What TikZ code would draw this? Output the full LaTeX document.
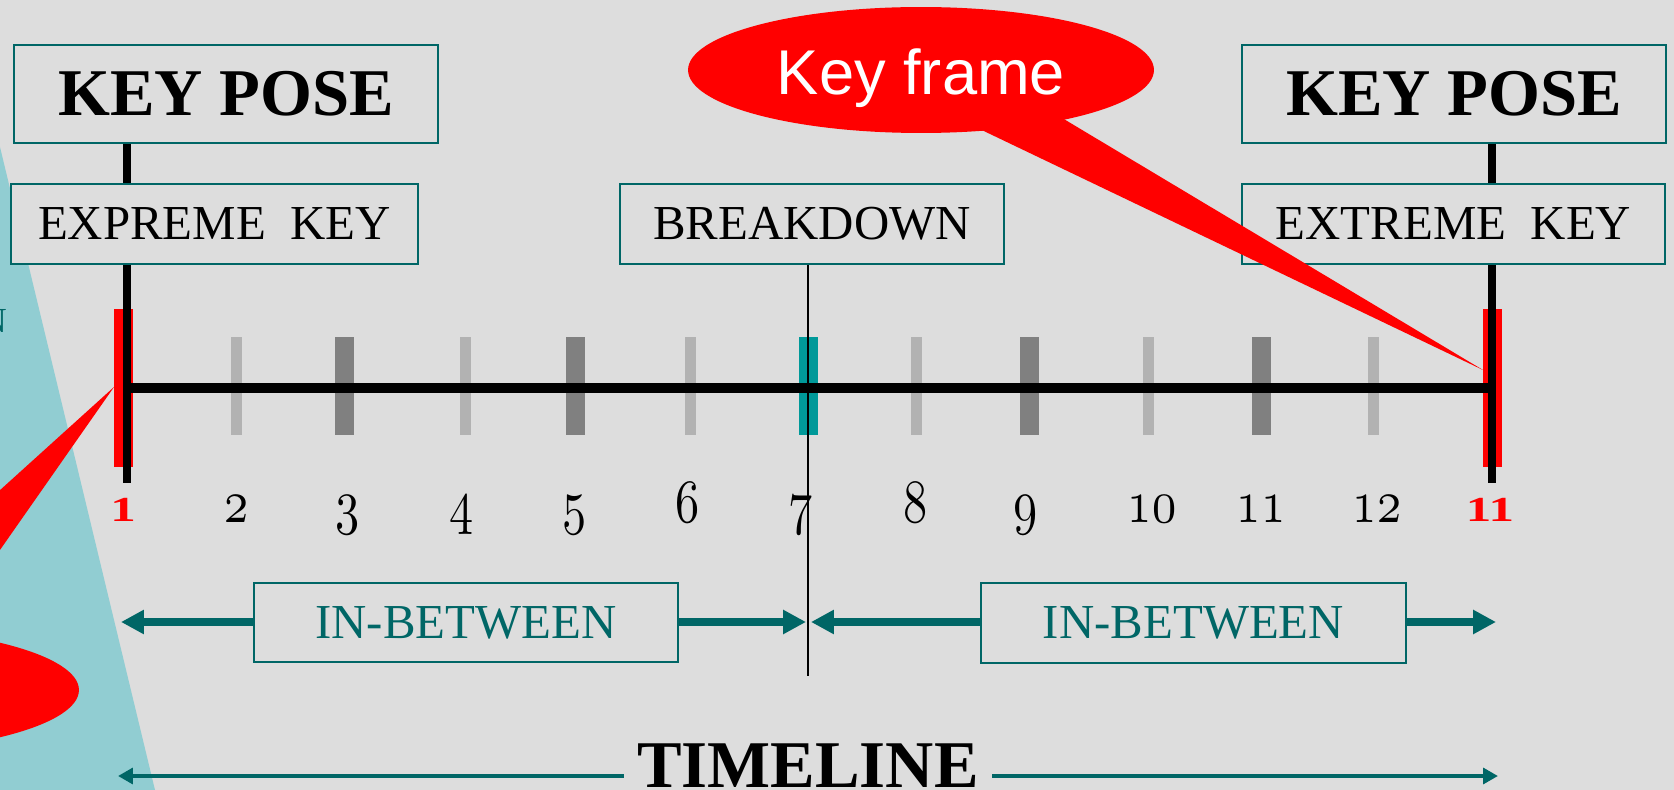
\documentclass[tikz,border=0pt]{standalone}
\usepackage{fontspec}
\usepackage{graphicx}
\setmainfont{Liberation Serif}
\newfontfamily\arialf{Liberation Sans}
\usetikzlibrary{arrows.meta,shapes.geometric}
\definecolor{bg}{RGB}{221,221,221}
\definecolor{lteal}{RGB}{145,205,210}
\definecolor{dteal}{RGB}{0,102,102}
\definecolor{mteal}{RGB}{0,153,153}
\definecolor{lgrey}{RGB}{178,178,178}
\definecolor{dgrey}{RGB}{128,128,128}
\newcommand\osn[1]{{\fontsize{10}{10}\usefont{OML}{cmm}{m}{it}\scalebox{2.75}[3.5]{#1}}}
\newcommand\osb[1]{{\fontsize{20}{20}\bfseries\scalebox{1.45}[1]{#1}}}
\begin{document}
\begin{tikzpicture}[x=0.02cm,y=-0.02cm,
  box/.style={draw=dteal, line width=1.1pt, fill=bg, inner sep=0pt, align=center},
  boxtxt/.style={font=\fontsize{27.8}{30}\selectfont},
  bigtxt/.style={font=\fontsize{38}{40}\selectfont\bfseries},
  keyline/.style={line width=4.5pt, black},
  ibarrow/.style={draw=dteal, line width=4.5pt, -{Triangle[length=13pt,width=13pt]}},
  tlarrow/.style={draw=dteal, line width=2.3pt, -{Triangle[length=8.5pt,width=9pt]}},
  num/.style={anchor=base, inner sep=0pt},
  callout/.style={ellipse, fill=red, draw=none, minimum width=9.32cm, minimum height=2.52cm, inner sep=0pt}
]
\useasboundingbox (0,0) rectangle (1674,790);
\clip (0,0) rectangle (1674,790);
\fill[bg] (0,0) rectangle (1674,790);
% teal background wedge
\fill[lteal] (0,147) -- (155,790) -- (0,790) -- cycle;
\node[anchor=base east, text=dteal, font=\fontsize{20}{20}\selectfont, inner sep=0pt] (frag) at (7,333) {N};
% left callout (cut off)
\node[callout] (kfl) at (-154,690) {};
\coordinate (tipl) at (114,387);
\fill[red] (tipl) -- (-221,690) -- (-98,690) -- cycle;
% ticks
\foreach \x/\w/\c in {236.5/11/lgrey, 344.5/19/dgrey, 465.5/11/lgrey, 575.5/19/dgrey, 690.5/11/lgrey, 808.5/19/mteal, 916.5/11/lgrey, 1029.5/19/dgrey, 1148.5/11/lgrey, 1261.5/19/dgrey, 1373.5/11/lgrey}
  \fill[\c] (\x-\w/2,337) rectangle (\x+\w/2,435);
\fill[red] (114,309) rectangle (133,467);
\fill[red] (1483,309) rectangle (1502,467);
% boxes
\node[box, boxtxt, minimum width=8.14cm, minimum height=1.6cm] (ek1) at (214.5,224) {EXPREME~\ KEY};
\node[box, bigtxt, minimum width=8.48cm, minimum height=1.96cm] (kp1) at (226,94) {KEY POSE};
\node[box, boxtxt, minimum width=7.68cm, minimum height=1.6cm] (bd) at (812,224) {BREAKDOWN};
\node[box, bigtxt, minimum width=8.48cm, minimum height=1.96cm] (kp2) at (1454,94) {KEY POSE};
\node[box, boxtxt, minimum width=8.46cm, minimum height=1.6cm] (ek2) at (1453.5,224) {EXTREME~\ KEY};
\node[box, boxtxt, text=dteal, minimum width=8.48cm, minimum height=1.58cm] (ib1) at (466,622.5) {IN-BETWEEN};
\node[box, boxtxt, text=dteal, minimum width=8.5cm, minimum height=1.6cm] (ib2) at (1193.5,623) {IN-BETWEEN};
% key lines
\coordinate (lx) at (127,0);
\coordinate (rx) at (1492,0);
\coordinate (lbot) at (127,483);
\coordinate (rbot) at (1492,483);
\coordinate (hl) at (127,388);
\coordinate (hr) at (1492,388);
\draw[line width=5.3pt, black] (hl) -- (hr);
\draw[keyline] (kp1.south -| lx) -- (ek1.north -| lx);
\draw[keyline] (ek1.south -| lx) -- (lbot);
\draw[keyline] (kp2.south -| rx) -- (ek2.north -| rx);
\draw[keyline] (ek2.south -| rx) -- (rbot);
% key frame callout
\node[callout] (kf) at (921,70) {};
\coordinate (tipr) at (1483,370);
\fill[red] (919,100) -- (1032,100) -- (tipr) -- cycle;
\node[anchor=base, text=white, font=\arialf\fontsize{36}{36}\selectfont, inner sep=0pt] (kft) at (921,95) {Key frame};
% numbers
\node[num, text=red] (n1) at (123,521) {\osb{1}};
\node[num] (n2) at (237,522) {\osn{2}};
\node[num] (n3) at (348,522) {\osn{3}};
\node[num] (n4) at (462,522) {\osn{4}};
\node[num] (n5) at (575,522) {\osn{5}};
\node[num] (n6) at (688,522) {\osn{6}};
\node[num] (n7) at (801,522) {\osn{7}};
\node[num] (n8) at (916,522) {\osn{8}};
\node[num] (n9) at (1026,522) {\osn{9}};
\node[num] (n10) at (1152,522) {\osn{10}};
\node[num] (n11) at (1261,522) {\osn{11}};
\node[num] (n12) at (1377,522) {\osn{12}};
\node[num, text=red] (n13) at (1490,521) {\osb{11}};
% breakdown line
\coordinate (bx) at (808,0);
\coordinate (bbot) at (808,676);
\draw[line width=1.4pt, black] (bd.south -| bx) -- (bbot);
% in-between arrows
\coordinate (ibl) at (121,622);
\coordinate (ibm1) at (806,622);
\coordinate (ibm2) at (811,622);
\coordinate (ibr) at (1496,622);
\draw[ibarrow] (ib1.west |- ibl) -- (ibl);
\draw[ibarrow] (ib1.east |- ibm1) -- (ibm1);
\draw[ibarrow] (ib2.west |- ibm2) -- (ibm2);
\draw[ibarrow] (ib2.east |- ibr) -- (ibr);
% timeline
\node[anchor=base, bigtxt, inner sep=7.5pt] (tl) at (808,787) {TIMELINE};
\coordinate (tla) at (118,776);
\coordinate (tlb) at (1498,776);
\draw[tlarrow] (tla -| tl.west) -- (tla);
\draw[tlarrow] (tlb -| tl.east) -- (tlb);
\end{tikzpicture}
\end{document}
